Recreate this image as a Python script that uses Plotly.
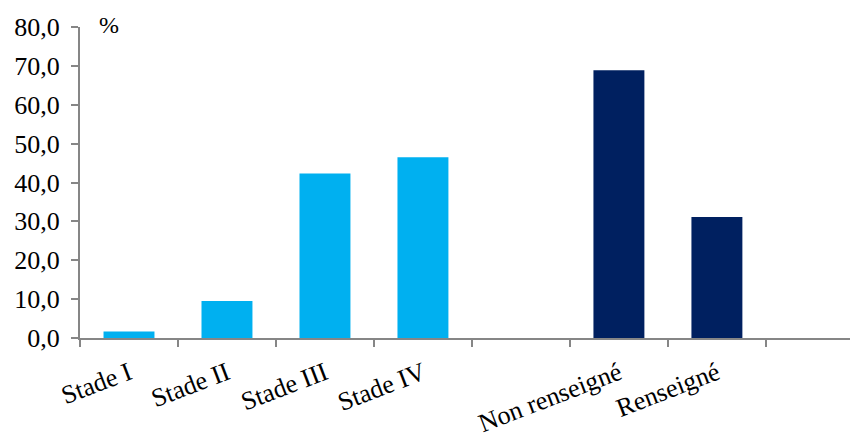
import plotly.graph_objects as go

categories = ["Stade I", "Stade II", "Stade III", "Stade IV", " ", "Non renseigné", "Renseigné", "  "]
stade_labels = ["Stade I", "Stade II", "Stade III", "Stade IV"]
stade_values = [1.7, 9.5, 42.3, 46.5]
info_labels = ["Non renseigné", "Renseigné"]
info_values = [68.9, 31.1]
y_ticks = [0, 10, 20, 30, 40, 50, 60, 70, 80]

font_family = "Liberation Serif, Times New Roman, serif"
axis_color = "#868686"

fig = go.Figure()
fig.add_trace(go.Bar(x=stade_labels, y=stade_values, marker=dict(color="#00B0F0", line=dict(width=0)),
                     width=0.52, showlegend=False))
fig.add_trace(go.Bar(x=info_labels, y=info_values, marker=dict(color="#002060", line=dict(width=0)),
                     width=0.52, showlegend=False))

fig.update_layout(
    width=850, height=430,
    margin=dict(l=72, r=0, t=19, b=100),
    plot_bgcolor="white", paper_bgcolor="white",
    separators=", ",
    font=dict(family=font_family, size=26, color="black"),
    barmode="overlay",
    xaxis=dict(
        type="category", categoryorder="array", categoryarray=categories,
        range=[-0.5, 7.44], automargin=False,
        showline=True, linecolor=axis_color, linewidth=2,
        ticks="outside", tickson="boundaries", ticklen=7, tickcolor=axis_color, tickwidth=2,
        tickangle=-21, showgrid=False, zeroline=False, ticklabelstandoff=8,
        tickfont=dict(family=font_family, size=26, color="black"),
    ),
    yaxis=dict(
        range=[0, 80], tickvals=y_ticks, tickformat=".1f", automargin=False,
        showline=True, linecolor=axis_color, linewidth=2,
        ticks="outside", ticklen=7, tickcolor=axis_color, tickwidth=2,
        showgrid=False, zeroline=False, ticklabelstandoff=6,
        tickfont=dict(family=font_family, size=26, color="black"),
    ),
    annotations=[dict(text="%", xref="paper", yref="paper", x=0.022, y=1.006,
                      xanchor="left", yanchor="middle", showarrow=False,
                      font=dict(family=font_family, size=24, color="black"))],
)

fig.write_html("out.html")
